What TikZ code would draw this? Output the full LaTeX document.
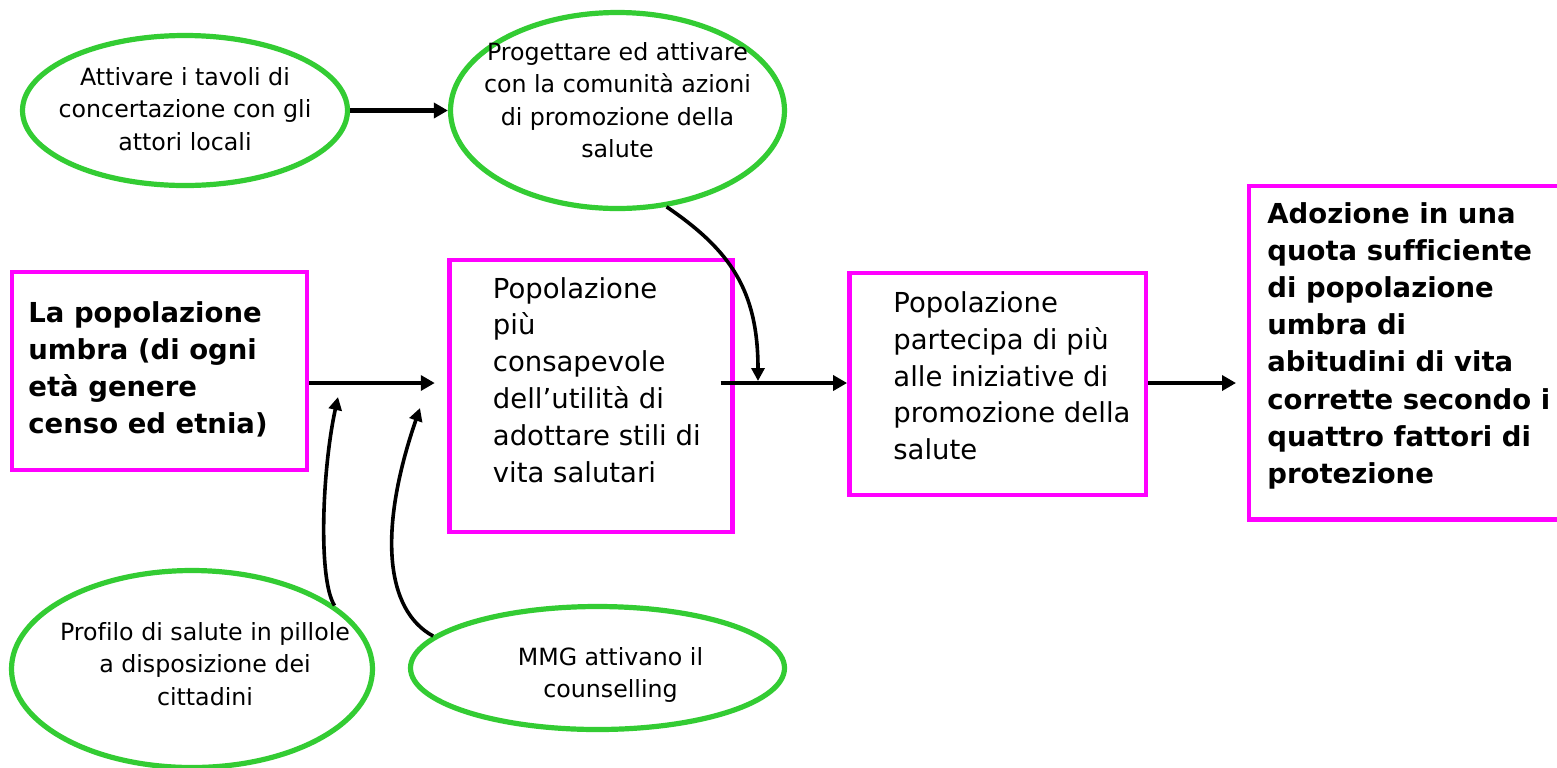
\documentclass[tikz,border=0pt]{standalone}
\usepackage{fontspec}
\setmainfont{DejaVu Sans}[Ligatures=NoCommon]
\definecolor{bubbleGreen}{RGB}{51,204,51}
\definecolor{frameMagenta}{RGB}{255,0,255}
\usetikzlibrary{shapes.geometric,arrows.meta,positioning,calc}

\begin{document}
\begin{tikzpicture}[x=0.5pt,y=-0.5pt,
    bubble/.style={ellipse,draw=bubbleGreen,line width=2.6pt,inner sep=0pt},
    boxframe/.style={rectangle,draw=frameMagenta,line width=2.4pt,inner sep=0pt},
    bubbletext/.style={anchor=north,inner sep=0pt,align=center,font=\fontsize{11.85pt}{16.2pt}\selectfont},
    frametext/.style={anchor=north west,inner sep=0pt,align=left,font=\fontsize{13.75pt}{18.4pt}\selectfont},
    boldtext/.style={frametext,font=\fontsize{13.75pt}{18.6pt}\selectfont\bfseries},
    mainarrow/.style={line width=2.1pt,-{Triangle[length=7pt,width=7.5pt]}},
    sidearrow/.style={line width=1.8pt,-{Triangle[length=6.5pt,width=6.5pt]}}]
        \useasboundingbox[fill=white] (0,0) rectangle (1557,767);
        % Actions on top
        \node[bubble,minimum width=162.5pt,minimum height=75pt] (tavoli) at (185,110.5) {};
        \node[bubbletext] (tavoliTxt) at (185,67) {Attivare i tavoli di\\concertazione con gli\\attori locali};
        \node[bubble,minimum width=167pt,minimum height=98pt] (progettare) at (617.5,110.5) {};
        \node[bubbletext] (progettareTxt) at (617.5,42) {Progettare ed attivare\\con la comunità azioni\\di promozione della\\salute};
        % Actions at the bottom
        \node[bubble,minimum width=180.5pt,minimum height=98.5pt] (profilo) at (192,669) {};
        \node[bubbletext] (profiloTxt) at (205,622) {Profilo di salute in pillole\\a disposizione dei\\cittadini};
        \node[bubble,minimum width=187pt,minimum height=61.5pt] (mmg) at (597.5,668) {};
        \node[bubbletext] (mmgTxt) at (610.5,647) {MMG attivano il\\counselling};
        % Chain of outcomes
        \node[boxframe,minimum width=147.5pt,minimum height=99pt] (popolazione) at (159.5,371) {};
        \node[boldtext] (popolazioneTxt) at (28,300.7) {La popolazione\\umbra (di ogni\\età genere\\censo ed etnia)};
        \node[boxframe,minimum width=141.25pt,minimum height=136pt] (consapevole) at (591,396) {};
        \node[frametext] (consapevoleTxt) at (492.5,276.7) {Popolazione\\più\\consapevole\\dell’utilità di\\adottare stili di\\vita salutari};
        \node[boxframe,minimum width=148.25pt,minimum height=111pt] (partecipa) at (997.75,384) {};
        \node[frametext] (partecipaTxt) at (893,291.2) {Popolazione\\partecipa di più\\alle iniziative di\\promozione della\\salute};
        \node[boxframe,minimum width=160.5pt,minimum height=166.75pt] (adozione) at (1409.5,352.75) {};
        \node[boldtext] (adozioneTxt) at (1267,201.7) {Adozione in una\\quota sufficiente\\di popolazione\\umbra di\\abitudini di vita\\corrette secondo i\\quattro fattori di\\protezione};
        % Arrows
        \coordinate (axis) at (0,383);
        \draw[mainarrow] (tavoli.east) -- (progettare.west);
        \draw[mainarrow,shorten >=6.3pt] (popolazione.east |- axis) -- (consapevole.west |- axis);
        \draw[mainarrow] ($(consapevole.east |- axis)+(-14,0)$) -- (partecipa.west |- axis);
        \draw[mainarrow,shorten >=5.3pt] (partecipa.east |- axis) -- (adozione.west |- axis);
        % Curved inputs
        \coordinate (join) at (758,381);
        \draw[sidearrow] (progettare.-63) .. controls (730,250) and (758,290) .. (join);
        \coordinate (tipProfilo) at (338,397);
        \draw[sidearrow] (profilo.24) .. controls (318,580) and (322,470) .. (tipProfilo);
        \coordinate (tipMmg) at (420,408);
        \draw[sidearrow] (mmg.169) .. controls (385,610) and (378,530) .. (tipMmg);
      \end{tikzpicture}
\end{document}
